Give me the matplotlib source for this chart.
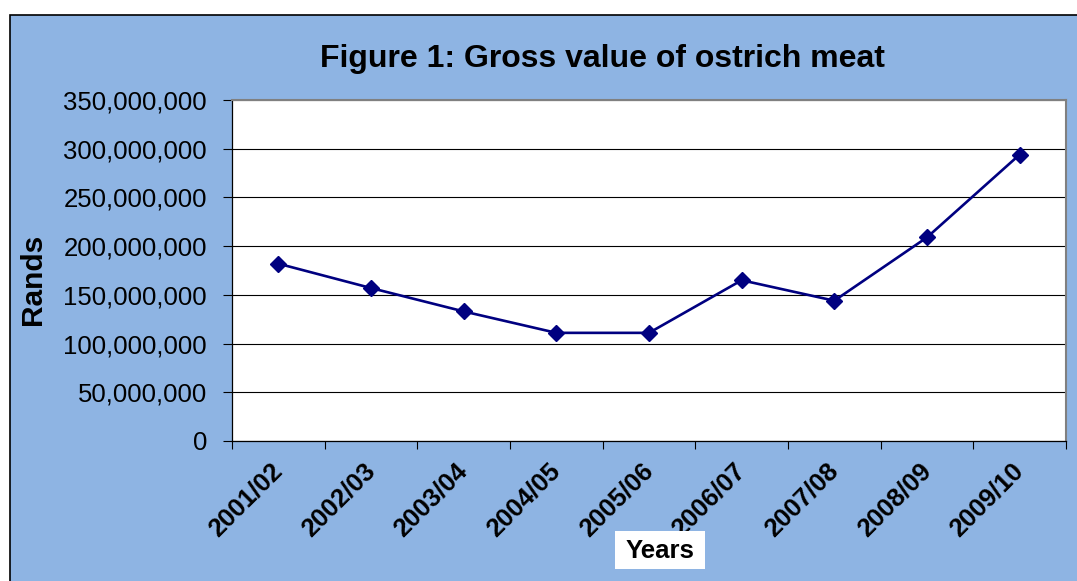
import matplotlib.pyplot as plt
from matplotlib.patches import Rectangle
from matplotlib.ticker import FuncFormatter, FixedLocator
import numpy as np

plt.rcParams['font.family'] = ['Liberation Sans', 'DejaVu Sans']

years = ["2001/02", "2002/03", "2003/04", "2004/05", "2005/06",
         "2006/07", "2007/08", "2008/09", "2009/10"]
gross_value = [182e6, 157e6, 133e6, 111e6, 111e6, 165e6, 144e6, 209e6, 294e6]

W, H = 1077, 581
fig = plt.figure(figsize=(W / 100, H / 100), dpi=100, facecolor="white")

# blue chart area with black border (cut off at right and bottom)
bg = Rectangle((10 / W, -0.05), 1.1, 1 - 15 / H + 0.05, transform=fig.transFigure,
               facecolor="#8EB4E3", edgecolor="black", lw=1.2, zorder=-1)
fig.patches.append(bg)

ax = fig.add_axes([232 / W, 1 - 441 / H, (1066 - 232) / W, (441 - 100) / H])
ax.set_facecolor("white")

x = np.arange(len(years))
ax.plot(x, gross_value, "-D", color="#000080", lw=1.9, ms=8, zorder=3)

ax.set_xlim(-0.5, len(years) - 0.5)
ax.set_ylim(0, 350e6)
ax.set_yticks(np.arange(0, 350e6 + 1, 50e6))
ax.yaxis.set_major_formatter(FuncFormatter(lambda v, p: "{:,.0f}".format(v)))
ax.yaxis.grid(True, color="black", lw=0.8)
ax.set_axisbelow(True)
ax.tick_params(axis="y", direction="out", length=6.5, width=0.8, pad=11.5,
               labelsize=18.5, colors="black")

ax.set_xticks(x)
ax.set_xticklabels(years, rotation=45, ha="right", va="center",
                   rotation_mode="anchor", fontsize=18.5, fontweight="bold")
ax.xaxis.set_minor_locator(FixedLocator(np.arange(-0.5, len(years), 1.0)))
ax.tick_params(axis="x", which="major", length=0, pad=18.5)
ax.tick_params(axis="x", which="minor", direction="out", length=5.5, width=0.8)

for s in ["top", "right"]:
    ax.spines[s].set_color("#808080")
    ax.spines[s].set_linewidth(1.5)
for s in ["left", "bottom"]:
    ax.spines[s].set_color("black")
    ax.spines[s].set_linewidth(0.9)

fig.text(602 / W, 1 - 67 / H, "Figure 1: Gross value of ostrich meat",
         ha="center", va="baseline", fontsize=23, fontweight="bold")
fig.text(33 / W, 1 - 279 / H, "Rands", rotation=90, ha="center", va="center",
         fontsize=21.5, fontweight="bold")

box = Rectangle((615 / W, 1 - 569 / H), 90 / W, 38 / H, transform=fig.transFigure,
                facecolor="white", edgecolor="none", zorder=2)
fig.patches.append(box)
fig.text(660 / W, 1 - 558 / H, "Years", ha="center", va="baseline",
         fontsize=18.5, fontweight="bold", zorder=3)

plt.savefig("out.png", dpi=100, facecolor="white")
